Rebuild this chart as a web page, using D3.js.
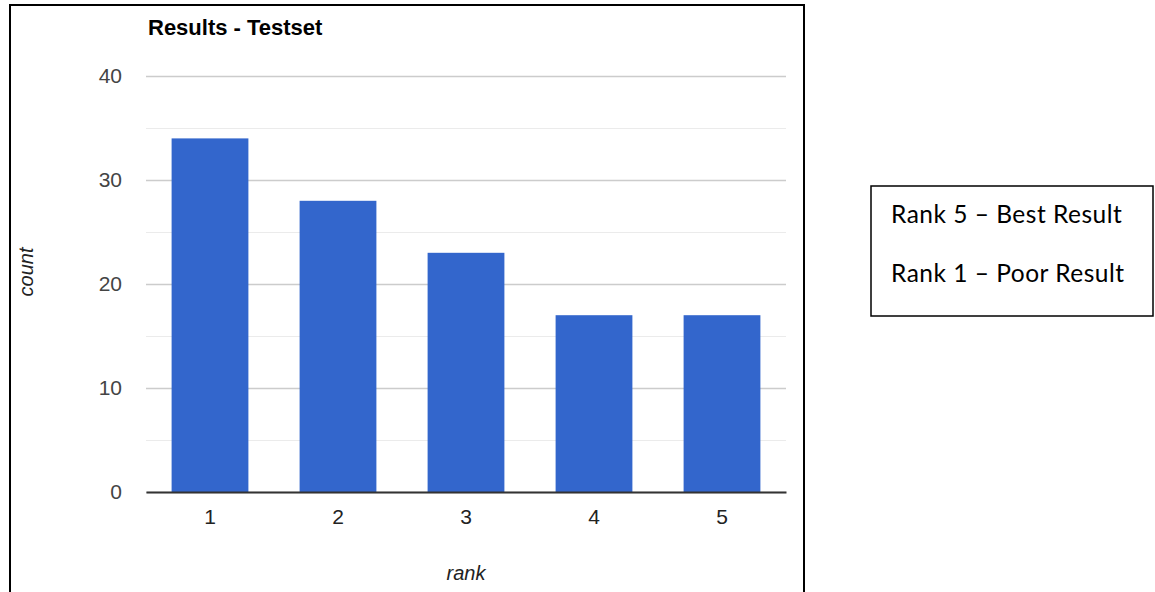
<!DOCTYPE html>
<html>
<head>
<meta charset="utf-8">
<script src="https://cdn.jsdelivr.net/npm/d3@7"></script>
<style>
  html, body { margin: 0; padding: 0; background: #fff; }
  svg { display: block; }
</style>
</head>
<body>
<svg id="chart" width="1155" height="592"></svg>
<script>
// Rank counts on the test set
const ranks = ["1", "2", "3", "4", "5"];
const counts = [34, 28, 23, 17, 17];
const majorTicks = [0, 10, 20, 30, 40];
const minorTicks = [5, 15, 25, 35];
const noteLines = ["Rank 5 \u2013 Best Result", "Rank 1 \u2013 Poor Result"];

const svg = d3.select("#chart");

const plot = { left: 146, right: 786, top: 76, bottom: 492 };
const baseFont = "Arial, 'Liberation Sans', sans-serif";

const x = d3.scaleBand()
  .domain(ranks)
  .range([plot.left, plot.right])
  .paddingInner(0.4)
  .paddingOuter(0.2);

const y = d3.scaleLinear()
  .domain([0, 40])
  .range([plot.bottom, plot.top]);

// Outer frame around the chart
svg.append("rect")
  .attr("x", 10).attr("y", 5)
  .attr("width", 794).attr("height", 600)
  .attr("fill", "none")
  .attr("stroke", "#000")
  .attr("stroke-width", 2);

// Minor gridlines
svg.append("g")
  .selectAll("line")
  .data(minorTicks)
  .join("line")
  .attr("x1", plot.left).attr("x2", plot.right)
  .attr("y1", d => Math.round(y(d)) + 0.5)
  .attr("y2", d => Math.round(y(d)) + 0.5)
  .attr("stroke", "#ebebeb")
  .attr("stroke-width", 1);

// Major gridlines + labels via a left axis
const yAxis = d3.axisLeft(y)
  .tickValues(majorTicks)
  .tickSize(-(plot.right - plot.left))
  .tickPadding(24)
  .tickFormat(d3.format("d"));

const gy = svg.append("g")
  .attr("transform", `translate(${plot.left},0)`)
  .call(yAxis);
gy.select(".domain").remove();
gy.selectAll(".tick line")
  .attr("stroke", "#cccccc")
  .attr("stroke-width", 1.5);
gy.selectAll(".tick text")
  .attr("font-family", baseFont)
  .attr("font-size", 21)
  .attr("fill", "#444");

// Bars
svg.append("g")
  .selectAll("rect")
  .data(counts)
  .join("rect")
  .attr("x", (d, i) => x(ranks[i]))
  .attr("y", d => y(d))
  .attr("width", x.bandwidth())
  .attr("height", d => y(0) - y(d))
  .attr("fill", "#3366cc");

// Baseline + rank labels via a bottom axis
const xAxis = d3.axisBottom(x).tickSize(0).tickPadding(17);
const gx = svg.append("g")
  .attr("transform", `translate(0,${y(0)})`)
  .call(xAxis);
gx.select(".domain")
  .attr("stroke", "#333")
  .attr("stroke-width", 2);
gx.selectAll(".tick text")
  .attr("font-family", baseFont)
  .attr("font-size", 21)
  .attr("fill", "#222");

// Title
svg.append("text")
  .attr("x", 148).attr("y", 35)
  .attr("font-family", baseFont)
  .attr("font-size", 22)
  .attr("font-weight", "bold")
  .attr("fill", "#000")
  .text("Results - Testset");

// Axis titles
svg.append("text")
  .attr("transform", "translate(33,272) rotate(-90)")
  .attr("text-anchor", "middle")
  .attr("font-family", baseFont)
  .attr("font-size", 20)
  .attr("font-style", "italic")
  .attr("fill", "#222")
  .text("count");

svg.append("text")
  .attr("x", (plot.left + plot.right) / 2)
  .attr("y", 580)
  .attr("text-anchor", "middle")
  .attr("font-family", baseFont)
  .attr("font-size", 20)
  .attr("font-style", "italic")
  .attr("fill", "#222")
  .text("rank");

// Side note box
svg.append("rect")
  .attr("x", 871).attr("y", 186)
  .attr("width", 282).attr("height", 130)
  .attr("fill", "#fff")
  .attr("stroke", "#000")
  .attr("stroke-width", 1.5);

svg.append("g")
  .selectAll("text")
  .data(noteLines)
  .join("text")
  .attr("x", 891)
  .attr("y", (d, i) => 223 + i * 59)
  .attr("font-family", "Lato, 'Open Sans', sans-serif")
  .attr("font-size", 24.5)
  .attr("letter-spacing", 0.5)
  .attr("fill", "#000")
  .text(d => d);
</script>
</body>
</html>
